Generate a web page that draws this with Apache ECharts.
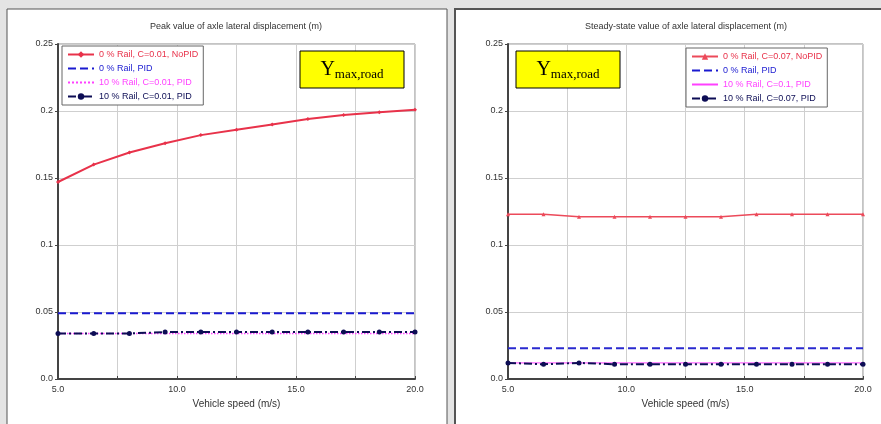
<!DOCTYPE html>
<html><head><meta charset="utf-8">
<script src="https://cdn.jsdelivr.net/npm/echarts@6/dist/echarts.min.js"></script>
<style>html,body{margin:0;padding:0;background:#e4e4e4}#c{width:881px;height:424px}</style>
</head><body><div id="c"></div>
<script>
const speeds = [5, 6.5, 8, 9.5, 11, 12.5, 14, 15.5, 17, 18.5, 20];
// Left: peak values
const peakRed = [0.147, 0.160, 0.169, 0.176, 0.182, 0.186, 0.190, 0.194, 0.197, 0.199, 0.201];
const peakBlue = [0.049, 0.049, 0.049, 0.049, 0.049, 0.049, 0.049, 0.049, 0.049, 0.049, 0.049];
const peakMagenta = [0.034, 0.034, 0.034, 0.034, 0.034, 0.034, 0.034, 0.034, 0.034, 0.034, 0.034];
const peakNavy = [0.034, 0.034, 0.034, 0.035, 0.035, 0.035, 0.035, 0.035, 0.035, 0.035, 0.035];
// Right: steady-state values
const ssRed = [0.123, 0.123, 0.121, 0.121, 0.121, 0.121, 0.121, 0.123, 0.123, 0.123, 0.123];
const ssBlue = [0.023, 0.023, 0.023, 0.023, 0.023, 0.023, 0.023, 0.023, 0.023, 0.023, 0.023];
const ssMagenta = [0.012, 0.012, 0.012, 0.012, 0.012, 0.012, 0.012, 0.012, 0.012, 0.012, 0.012];
const ssNavy = [0.012, 0.011, 0.012, 0.011, 0.011, 0.011, 0.011, 0.011, 0.011, 0.011, 0.011];
const leftNames = ['0 % Rail, C=0.01, NoPID', '0 % Rail, PID', '10 % Rail, C=0.01, PID', '10 % Rail, C=0.01, PID '];
const rightNames = ['0 % Rail, C=0.07, NoPID', '0 % Rail, PID', '10 % Rail, C=0.1, PID', '10 % Rail, C=0.07, PID'];
const titles = ['Peak value of axle lateral displacement (m)', 'Steady-state value of axle lateral displacement (m)'];
const xName = 'Vehicle speed (m/s)';

const pair = (ys) => speeds.map((x, i) => [x, ys[i]]);
const chart = echarts.init(document.getElementById('c'), null, {renderer: 'canvas'});
const font = 'Arial, Liberation Sans, sans-serif';

function xAxis(gi) {
  return {
    type: 'value', gridIndex: gi, min: 5, max: 20, interval: 2.5,
    name: xName, nameLocation: 'middle', nameGap: 20,
    nameTextStyle: {fontSize: 10, color: '#333', fontFamily: font},
    axisLine: {lineStyle: {color: '#444', width: 2}},
    axisTick: {show: true, inside: true, length: 3, lineStyle: {color: '#444'}},
    axisLabel: {fontSize: 9, color: '#333', margin: 6, fontFamily: font,
      formatter: v => (v % 5 === 0 ? v.toFixed(1) : '')},
    splitLine: {show: true, lineStyle: {color: '#cfcfcf', width: 1}}
  };
}
function yAxis(gi) {
  return {
    type: 'value', gridIndex: gi, min: 0, max: 0.25, interval: 0.05,
    axisLine: {show: true, lineStyle: {color: '#444', width: 2}},
    axisTick: {show: true, length: 3, lineStyle: {color: '#444'}},
    axisLabel: {fontSize: 9, color: '#333', margin: 5, fontFamily: font,
      formatter: v => (v === 0 ? '0.0' : String(+v.toFixed(2)))},
    splitLine: {show: true, lineStyle: {color: '#cfcfcf', width: 1}}
  };
}
function mk(name, data, gi, color, type, width, symbol, size) {
  return {
    name, type: 'line', xAxisIndex: gi, yAxisIndex: gi, data: pair(data),
    symbol: symbol, symbolSize: size, showSymbol: symbol !== 'none',
    lineStyle: {color, width, type},
    itemStyle: {color},
    animation: false, z: 3
  };
}
const colors = ['#e8324a', '#1a1ad0', '#ff40ff', '#0d0d55'];
const legendData = (names, flags) => names.map((n, i) => {
  const d = {name: n, textStyle: {color: colors[i]}};
  if (!flags[i]) d.itemStyle = {opacity: 0};
  return d;
});
const dashDot = [8, 3, 2, 3];
const option = {
  backgroundColor: '#e4e4e4',
  animation: false,
  graphic: [
    {type: 'rect', shape: {x: 7, y: 9, width: 440, height: 430}, style: {fill: '#fff', stroke: '#555', lineWidth: 1}, z: -10},
    {type: 'rect', shape: {x: 455, y: 9, width: 440, height: 430}, style: {fill: '#fff', stroke: '#555', lineWidth: 2}, z: -10},
    {type: 'text', x: 236, y: 27, style: {text: titles[0], fontSize: 9, fill: '#333', fontFamily: font, align: 'center', verticalAlign: 'middle'}},
    {type: 'text', x: 686, y: 27, style: {text: titles[1], fontSize: 9, fill: '#333', fontFamily: font, align: 'center', verticalAlign: 'middle'}},
    {type: 'rect', shape: {x: 300, y: 51, width: 104, height: 37}, style: {fill: '#ffff00', stroke: '#000', lineWidth: 1}, z: 10},
    {type: 'text', x: 352, y: 70, z: 11, style: {text: '{a|Y}{b|max,road}', align: 'center', verticalAlign: 'middle',
      rich: {a: {fontSize: 20, fontFamily: 'Liberation Serif, serif', fill: '#000'}, b: {fontSize: 13, fontFamily: 'Liberation Serif, serif', fill: '#000', padding: [10, 0, 0, 0]}}}},
    {type: 'rect', shape: {x: 516, y: 51, width: 104, height: 37}, style: {fill: '#ffff00', stroke: '#000', lineWidth: 1}, z: 10},
    {type: 'text', x: 568, y: 70, z: 11, style: {text: '{a|Y}{b|max,road}', align: 'center', verticalAlign: 'middle',
      rich: {a: {fontSize: 20, fontFamily: 'Liberation Serif, serif', fill: '#000'}, b: {fontSize: 13, fontFamily: 'Liberation Serif, serif', fill: '#000', padding: [10, 0, 0, 0]}}}}
  ],
  grid: [
    {left: 58, top: 44, width: 357, height: 335, show: true, borderColor: '#888', borderWidth: 1, backgroundColor: '#fff'},
    {left: 508, top: 44, width: 355, height: 335, show: true, borderColor: '#888', borderWidth: 1, backgroundColor: '#fff'}
  ],
  xAxis: [xAxis(0), xAxis(1)],
  yAxis: [yAxis(0), yAxis(1)],
  legend: [
    {data: legendData(leftNames, [true, false, false, true]), left: 62, top: 46, orient: 'vertical', itemGap: 5, itemWidth: 26, itemHeight: 8,
      backgroundColor: '#fff', borderColor: '#666', borderWidth: 1, padding: [4, 5, 4, 5],
      textStyle: {fontSize: 9, fontFamily: font}},
    {data: legendData(rightNames, [true, false, false, true]), left: 686, top: 48, orient: 'vertical', itemGap: 5, itemWidth: 26, itemHeight: 8,
      backgroundColor: '#fff', borderColor: '#666', borderWidth: 1, padding: [4, 5, 4, 5],
      textStyle: {fontSize: 9, fontFamily: font}}
  ],
  series: [
    mk(leftNames[0], peakRed, 0, colors[0], 'solid', 2, 'diamond', 4),
    mk(leftNames[1], peakBlue, 0, colors[1], 'dashed', 2, 'none', 0),
    mk(leftNames[2], peakMagenta, 0, colors[2], 'dotted', 1.5, 'none', 0),
    mk(leftNames[3], peakNavy, 0, colors[3], dashDot, 2, 'circle', 5),
    mk(rightNames[0], ssRed, 1, '#ec4a5a', 'solid', 1.5, 'triangle', 4),
    mk(rightNames[1], ssBlue, 1, '#2a2ad0', 'dashed', 2, 'none', 0),
    mk(rightNames[2], ssMagenta, 1, colors[2], 'solid', 1, 'none', 0),
    mk(rightNames[3], ssNavy, 1, colors[3], dashDot, 2, 'circle', 5)
  ]
};
chart.setOption(option);
</script></body></html>
